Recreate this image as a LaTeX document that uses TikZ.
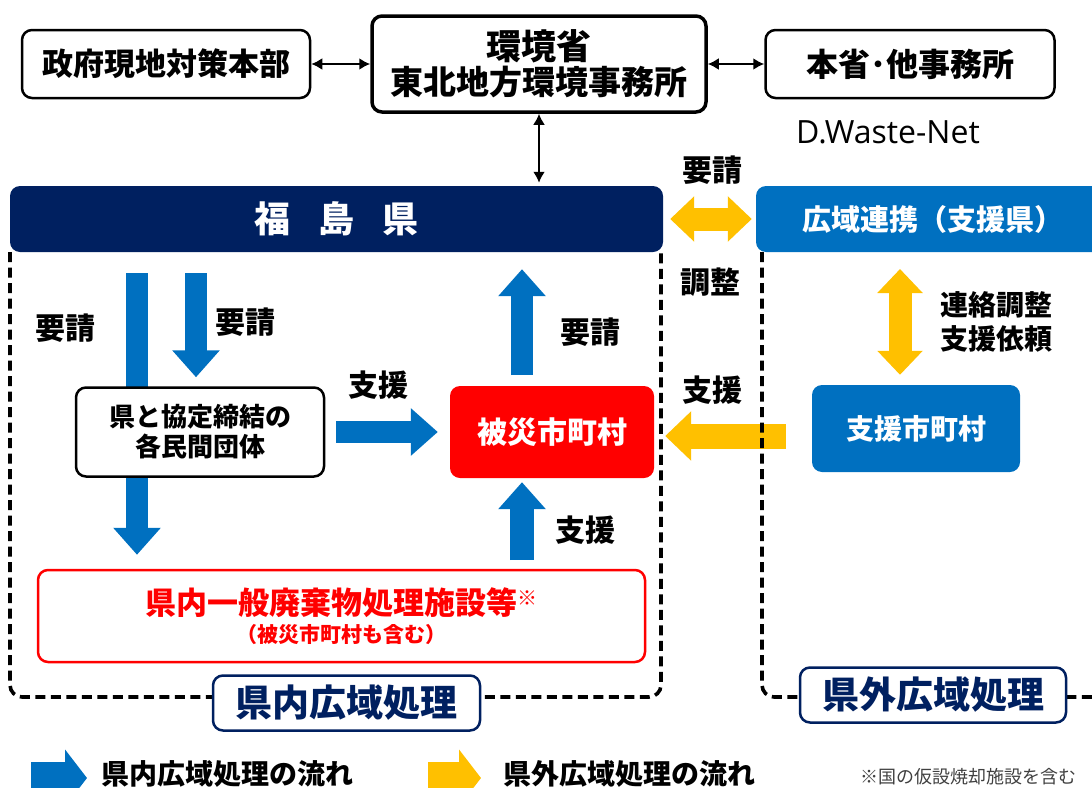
\documentclass[tikz,border=0pt]{standalone}
\usepackage{fontspec}
\setmainfont{Noto Sans CJK JP}
\newfontfamily\netfont{Open Sans}
\usetikzlibrary{arrows.meta}
\definecolor{navy}{HTML}{002060}
\definecolor{midblue}{HTML}{0070C0}
\definecolor{gold}{HTML}{FFC000}
\newcommand{\jpsize}[1]{\fontsize{#1}{#1}\selectfont\bfseries}

\tikzset{
  fat/.style={line width=22pt, -{Triangle[length=27pt,width=46pt]}},
  fatboth/.style={line width=23pt, {Triangle[length=24pt,width=44pt]}-{Triangle[length=24pt,width=44pt]}},
  thin arrow/.style={line width=2.8pt, {Latex[length=11pt,width=12pt]}-{Latex[length=11pt,width=12pt]}}
}

\begin{document}
\begin{tikzpicture}[x=1pt, y=-1pt]
        \tikzstyle{box}=[draw=black,line width=2.5pt,rounded corners=10pt,fill=white,align=center,inner sep=0pt]
        \tikzstyle{bar}=[rounded corners=10pt,align=center,text=white,inner sep=0pt]
        \tikzstyle{label}=[font=\jpsize{30},inner sep=0pt,align=left]
        \tikzstyle{area}=[navy,draw=navy,line width=2.5pt,rounded corners=10pt,fill=white,inner sep=0pt,font=\jpsize{37}]
        \tikzstyle{dashline}=[line width=3.6pt,dash pattern=on 10pt off 5.5pt,rounded corners=12pt]
        \useasboundingbox (0,0) rectangle (1092,787);

        % top row
        \node[box,minimum width=288,minimum height=68,font=\jpsize{31}] (T_1) at (166,64) {政府現地対策本部};
        \node[box,line width=3.5pt,minimum width=334,minimum height=96] (T_2) at (539,64)
            {{\jpsize{35}環境省}\\[2pt]{\jpsize{33}東北地方環境事務所}};
        \node[box,minimum width=289,minimum height=68,font=\jpsize{32}] (T_3) at (910,64) {本省･他事務所};
        \node[font=\netfont\fontsize{32}{32}\selectfont,inner sep=0pt] (D) at (888,132) {D.Waste-Net};

        % prefectures
        \node[bar,fill=navy,minimum width=653,minimum height=66,font=\jpsize{36}] (F) at (336.5,219)
            {福\hspace{28pt}島\hspace{28pt}県};
        \node[bar,fill=midblue,minimum width=354,minimum height=66,font=\jpsize{29}] (W) at (933,219)
            {広域連携（支援県）};

        \draw[thin arrow] (T_1) -- (T_2);
        \draw[thin arrow] (T_2) -- (T_3);
        \draw[thin arrow,shorten >=3pt] (T_2.south) -- (T_2.south |- F.north);

        % municipalities
        \node[bar,fill=red,minimum width=204,minimum height=92,font=\jpsize{30}] (H) at (552,432) {被災市町村};
        \node[bar,fill=midblue,minimum width=208,minimum height=87,font=\jpsize{28}] (S) at (916,428.5) {支援市町村};
        \node[box,draw=red,minimum width=607,minimum height=92] (R) at (341.5,616)
            {{\jpsize{31}\color{red}県内一般廃棄物処理施設等\raisebox{9pt}{\jpsize{20}※}}\\[6pt]
             {\jpsize{21}\color{red}（被災市町村も含む）}};

        % flows inside the prefecture
        \coordinate (P_1) at (137,273);
        \coordinate (P_2) at (196,273);
        \coordinate (P_3) at (522,375);
        \coordinate (P_4) at (522,560);
        \draw[fat,midblue,shorten >=14pt] (P_1) -- (P_1 |- R.north);
        \node[box,minimum width=248,minimum height=89,font=\jpsize{26}] (O) at (200,432)
            {県と協定締結の\\[4pt]各民間団体};
        \draw[fat,midblue,shorten >=9pt] (P_2) -- (P_2 |- O.north);
        \draw[fat,midblue,shorten <=11pt,shorten >=12pt] (O.east) -- (H.west);
        \draw[fat,midblue,shorten >=17pt] (P_3) -- (P_3 |- F.south);
        \draw[fat,midblue,line width=24pt,shorten >=4pt] (P_4) -- (P_4 |- H.south);

        % flows from outside
        \coordinate (Y_1) at (786,436);
        \coordinate (Y_2) at (900,269);
        \draw[fatboth,gold,shorten <=7pt,shorten >=4pt] (F.east) -- (W.west);
        \draw[fatboth,gold,shorten >=10pt] (Y_2) -- (Y_2 |- S.north);
        \draw[gold,line width=25pt,-{Triangle[length=26pt,width=48pt]},shorten >=11pt] (Y_1) -- (Y_1 -| H.east);

        % labels
        \node[label] (L_1) at (65,328) {要請};
        \node[label] (L_2) at (245,322) {要請};
        \node[label] (L_3) at (590,332) {要請};
        \node[label] (L_4) at (378,385) {支援};
        \node[label] (L_5) at (585,530) {支援};
        \node[label] (L_6) at (712,170) {要請};
        \node[label] (L_7) at (710,282) {調整};
        \node[label] (L_8) at (712,390) {支援};
        \node[label,font=\jpsize{28}] (L_9) at (996,322) {連絡調整\\[6pt]支援依頼};

        % areas
        \draw[dashline] (10,252) -- (10,697) -- (661,697) -- (661,252);
        \draw[dashline] (762,252) -- (762,697) -- (1100,697);
        \node[area,minimum width=267,minimum height=55] (K_1) at (346.5,703) {県内広域処理};
        \node[area,minimum width=266,minimum height=55] (K_2) at (933,695) {県外広域処理};

        % legend
        \draw[midblue,line width=32pt,-{Triangle[length=22pt,width=56pt]}] (31,778) -- (87,778);
        \node[label,font=\jpsize{28}] (G_1) at (227,774) {県内広域処理の流れ};
        \draw[gold,line width=32pt,-{Triangle[length=22pt,width=56pt]}] (428,778) -- (481,778);
        \node[label,font=\jpsize{28}] (G_2) at (629,774) {県外広域処理の流れ};
        \node[font=\fontsize{18}{18}\selectfont,text=black!75,anchor=west,inner sep=0pt] (N) at (860,777) {※国の仮設焼却施設を含む};
    \end{tikzpicture}
\end{document}
